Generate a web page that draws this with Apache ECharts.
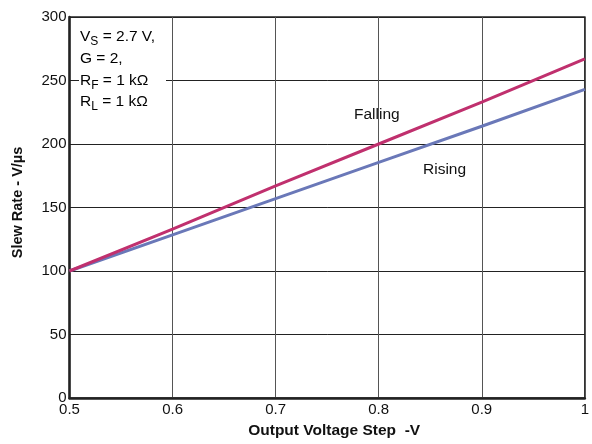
<!DOCTYPE html>
<html><head><meta charset="utf-8">
<script src="https://cdn.jsdelivr.net/npm/echarts@6/dist/echarts.min.js"></script>
<style>html,body{margin:0;padding:0;background:#fff}#c{width:592px;height:444px}</style>
</head><body><div id="c"></div>
<script>
const xValues = [0.5, 0.6, 0.7, 0.8, 0.9, 1.0];
const fallingValues = [100, 133, 167, 200, 233, 267];
const risingValues = [100, 128.5, 157, 185.5, 214, 243];
const xTicks = ['0.5', '0.6', '0.7', '0.8', '0.9', '1'];
const yTicks = [0, 50, 100, 150, 200, 250, 300];

const font = 'Liberation Sans, Arial, sans-serif';
const chart = echarts.init(document.getElementById('c'));
const pair = v => xValues.map((x, i) => [x, v[i]]);
const tl = {fontFamily: font, fontSize: 15, color: '#111'};
chart.setOption({
  animation: false,
  grid: {left: 69.5, right: 4, top: 17, bottom: 42.5, show: true, borderColor: '#222', borderWidth: 1.5},
  xAxis: {
    type: 'value', min: 0.5, max: 1.0, interval: 0.1,
    name: 'Output Voltage Step  -V', nameLocation: 'middle', nameGap: 25,
    nameTextStyle: {fontFamily: font, fontSize: 15.5, fontWeight: 'bold', color: '#111', padding: [0, 0, 0, 14]},
    axisLine: {show: true, lineStyle: {color: '#222', width: 2.5}},
    axisTick: {show: false},
    axisLabel: Object.assign({margin: 4, formatter: v => {const i = xValues.findIndex(x => Math.abs(x - v) < 1e-6); return i >= 0 ? xTicks[i] : '';}}, tl),
    splitLine: {show: true, lineStyle: {color: '#555', width: 1}}
  },
  yAxis: {
    type: 'value', min: 0, max: 300, interval: 50,
    name: 'Slew Rate - V/\u00b5s', nameLocation: 'middle', nameGap: 44,
    nameTextStyle: {fontFamily: font, fontSize: 14.5, fontWeight: 'bold', color: '#111', padding: [0, 0, 0, 10]},
    axisLine: {show: true, lineStyle: {color: '#222', width: 2.5}},
    axisTick: {show: false},
    axisLabel: Object.assign({margin: 3, formatter: v => yTicks.includes(v) ? String(v) : ''}, tl),
    splitLine: {show: true, lineStyle: {color: '#222', width: 1}}
  },
  series: [
    {name: 'Rising', type: 'line', data: pair(risingValues), showSymbol: false, lineStyle: {color: '#6a78b8', width: 3}, z: 3},
    {name: 'Falling', type: 'line', data: pair(fallingValues), showSymbol: false, lineStyle: {color: '#c0306e', width: 3}, z: 4}
  ],
  graphic: [
    {type: 'rect', left: 79, top: 74, shape: {width: 87, height: 16}, style: {fill: '#fff'}, z: 10},
    {type: 'text', left: 80, top: 29, z: 11, style: {
      text: '{a|V}{s|S}{a| = 2.7 V,}\n{a|G = 2,}\n{a|R}{s|F}{a| = 1 k\u03a9}\n{a|R}{s|L}{a| = 1 k\u03a9}',
      rich: {
        a: {fontFamily: font, fontSize: 15.5, color: '#111', lineHeight: 21.7, verticalAlign: 'top'},
        s: {fontFamily: font, fontSize: 12, color: '#111', lineHeight: 21.7, verticalAlign: 'top', padding: [7, 0, 0, 0]}
      }
    }},
    {type: 'text', left: 354, top: 107, z: 11, style: {text: 'Falling', fontFamily: font, fontSize: 15.5, fill: '#111'}},
    {type: 'text', left: 423, top: 162, z: 11, style: {text: 'Rising', fontFamily: font, fontSize: 15.5, fill: '#111'}}
  ]
});
</script></body></html>
